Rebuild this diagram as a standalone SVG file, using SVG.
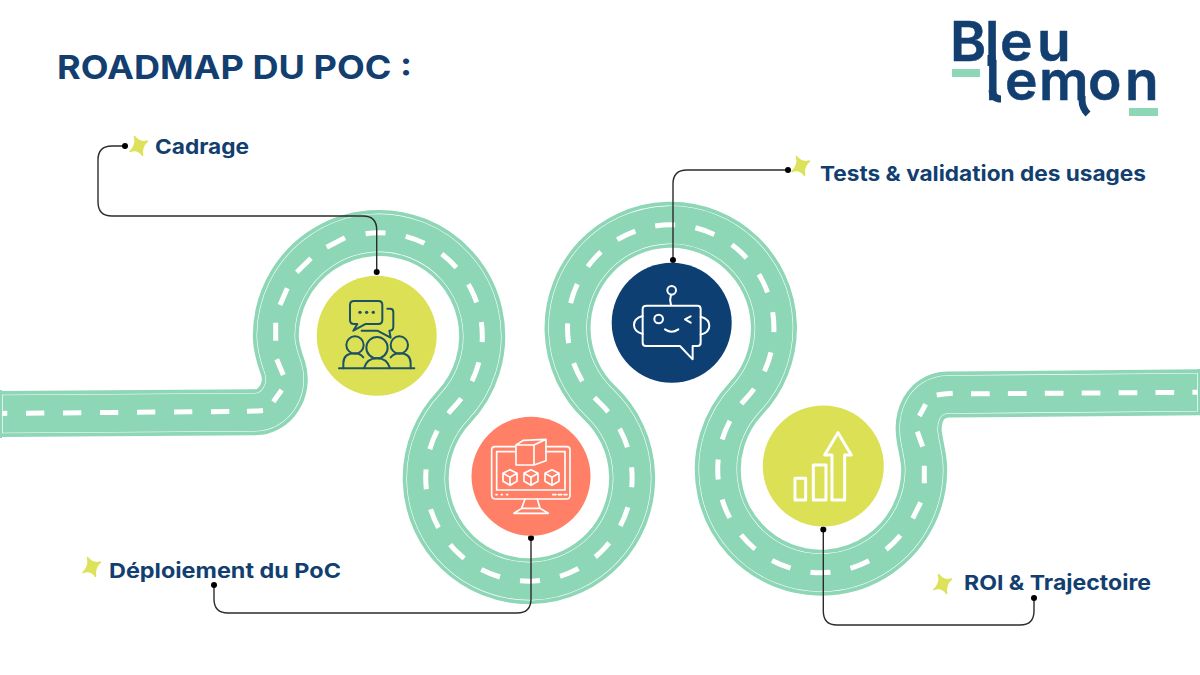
<svg xmlns="http://www.w3.org/2000/svg" width="1200" height="675" viewBox="0 0 1200 675">
<style>
.lab{font-family:"Inter","Liberation Sans",sans-serif;font-weight:700;fill:#123f70}
.logo{font-family:"Inter","Liberation Sans",sans-serif;font-weight:600;font-size:55px;fill:#123f70;stroke:#123f70;stroke-width:.5}
.road{fill:none;stroke-linejoin:round}
.dash{fill:none;stroke:#fff;stroke-width:5}
.con{fill:none;stroke:#2b2b2b;stroke-width:1.4}
.star{fill:#dce259;stroke:#dce259;stroke-width:1.5;stroke-linejoin:round}
.ic{fill:none;stroke-width:6;stroke-linecap:round;stroke-linejoin:round}
</style>
<defs>
<path id="rd" d="M0 414 L255 412.300 C275 412.300 290 390 283 368 C279 357 275.800 347 275.800 336 A103.200 103.200 0 1 1 454 407 A103.200 103.200 0 1 0 599.850 403 A103.200 103.200 0 1 1 745.850 398.750 A103.200 103.200 0 1 0 924.200 469.500 C924.200 458 921 448 919.500 438 C916 418 924 395 948 394.500 L1200 392.300"/>
<path id="st" d="M-4.500 -9.500 Q1 -2.500 8.500 -5 Q2 1 3.500 9.500 Q-1 2.500 -9 5.500 Q-2 -1 -4.500 -9.500Z"/>
</defs>
<rect width="1200" height="675" fill="#fff"/>
<g id="road">
<use href="#rd" class="road" stroke="#8dd6b6" stroke-width="46"/>
<use href="#rd" class="road" stroke="#fff" stroke-width="38.600"/>
<use href="#rd" class="road" stroke="#8dd6b6" stroke-width="37.400"/>
<path class="dash" stroke-dasharray="18.300 18.700" d="M-11 413.500 L230 411.500"/>
<path class="dash" d="M247 411.300 L258 411 L263 410.500 M273.300 401.700 L281.700 390 M276.700 359.300 L283.300 375 M275.700 322.700 V340.700 M287.300 288.300 L280 305 M311 258.300 L296.700 272.300 M345 237.700 L326.700 247.300"/>
<path class="dash" stroke-dasharray="20 20.400" d="M365.600 233.700 A103.200 103.200 0 0 1 454 407 A103.200 103.200 0 1 0 599.850 403 A103.200 103.200 0 1 1 745.850 398.750 A103.200 103.200 0 1 0 905.500 528.700"/>
<path class="dash" d="M920.700 502.300 L912.700 518.300 M924.300 465.700 V483.300 M917.300 431.700 L922.700 446.700 M925.700 404.300 L919.300 416 M936.700 395 L944 394 L952.700 393.300"/>
<path class="dash" stroke-dasharray="18.700 18.200" d="M971 393.800 L1200 392.300"/>
<rect x="0" y="390" width="2" height="48" fill="#8dd6b6"/>
<line x1="2.500" y1="395" x2="2.500" y2="433" stroke="#fff" stroke-width=".7"/>
<rect x="1198" y="369" width="2" height="46" fill="#8dd6b6"/>
<line x1="1197.500" y1="373.500" x2="1197.500" y2="411" stroke="#fff" stroke-width=".7"/>
</g>
<text class="lab" x="57" y="79" font-size="33" textLength="355" lengthAdjust="spacingAndGlyphs">ROADMAP DU POC :</text>
<g id="logo">
<text class="logo"><tspan x="950 985 1000 1037" y="61">Bleu</tspan><tspan x="985.500 1005 1039 1088 1125" y="100">lemon</tspan></text>
<path d="M991.500 55 V66" stroke="#123f70" stroke-width="8" fill="none"/>
<path d="M992 90 Q993 99 1001 99" stroke="#123f70" stroke-width="7" fill="none"/>
<path d="M1082 96 V100 Q1082 108 1088 114" stroke="#123f70" stroke-width="7" fill="none"/>
<rect x="952" y="69" width="28" height="8" fill="#8dd6b6"/>
<rect x="1129" y="108" width="29" height="8" fill="#8dd6b6"/>
</g>
<g id="connectors" class="con">
<path d="M125 146 H112 Q98 146 98 160 V202 Q98 216 112 216 H363 Q376.700 216 376.700 230 V272"/>
<path d="M531 538 V599 Q531 613 517 613 H228 Q214 613 214 599 V585"/>
<path d="M673 260 V184 Q673 170 687 170 H788"/>
<path d="M823.300 529.500 V611 Q823.300 625 837 625 H1020 Q1034 625 1034 611 V598"/>
<g fill="#000" stroke="none">
<circle cx="125" cy="146" r="3"/><circle cx="376.700" cy="272" r="3"/>
<circle cx="531" cy="538" r="3"/><circle cx="214" cy="585" r="3"/>
<circle cx="673" cy="260" r="3"/><circle cx="788" cy="170" r="3"/>
<circle cx="823.300" cy="529.500" r="3"/><circle cx="1034" cy="598" r="3"/>
</g>
</g>
<g id="node-cadrage">
<circle cx="376.700" cy="335.700" r="60" fill="#dce055"/>
<g transform="translate(300 260) scale(.3333)" class="ic" stroke="#1b5364">
<path d="M172 192 H162 Q150 192 150 180 V135 Q150 123 162 123 H235 Q247 123 247 135 V180 Q247 192 235 192 H197 L160 212 Z"/>
<path d="M262 146 H270 Q280 146 280 156 V200 Q280 212 268 212 L272 233 L232 212 H185"/>
<circle cx="165" cy="255" r="26"/><circle cx="231" cy="263" r="32"/><circle cx="298" cy="255" r="26"/>
<path d="M192 325 Q200 295 231 295 Q262 295 270 325"/>
<path d="M130 325 V310 Q130 280 165 280 Q180 280 190 292"/>
<path d="M332 325 V310 Q332 280 298 280 Q283 280 272 292"/>
<path d="M117 325 H343"/>
<g fill="#1b5364" stroke="none"><circle cx="180" cy="157" r="5"/><circle cx="200" cy="157" r="5"/><circle cx="220" cy="157" r="5"/></g>
</g>
<use href="#st" class="star" transform="translate(139 146)"/>
<text class="lab" x="155" y="154" font-size="20.500" textLength="94" lengthAdjust="spacingAndGlyphs">Cadrage</text>
</g>
<g id="node-deploiement">
<circle cx="531" cy="476.300" r="59.500" fill="#ff8067"/>
<g transform="translate(460 405) scale(.3333)" class="ic" stroke="#fff" style="stroke-width:5">
<path d="M165 125 H105 Q95 125 95 135 V270 Q95 282 107 282 H320 Q330 282 330 270 V135 Q330 125 320 125 H258"/>
<path d="M165 140 H110 V255 H315 V140 H258"/>
<path d="M195 282 L185 310 L162 325 H265 L240 310 L232 282 M185 310 H240"/>
<path d="M108 269 L111 269 M124 269 L127 269 M140 269 L143 269 M278 269 H288 M295 269 H305 M312 269 H321"/>
<path d="M168 120 H222 V180 H168 Z M168 120 L190 106 L258 103 L222 120 M258 103 V167 L222 180"/>
<path d="M150 194 L171 205 V229 L150 241 L129 229 V205 Z M129 205 L150 217 L171 205 M150 217 V241"/>
<path d="M213 194 L234 205 V229 L213 241 L192 229 V205 Z M192 205 L213 217 L234 205 M213 217 V241"/>
<path d="M276 194 L297 205 V229 L276 241 L255 229 V205 Z M255 205 L276 217 L297 205 M276 217 V241"/>
</g>
<use href="#st" class="star" transform="translate(92 567)"/>
<text class="lab" x="109" y="578" font-size="20.500" textLength="232" lengthAdjust="spacingAndGlyphs">Déploiement du PoC</text>
</g>
<g id="node-tests">
<circle cx="671.700" cy="322.700" r="60" fill="#0e3f73"/>
<g transform="translate(600 250) scale(.3333)" class="ic" stroke="#fff">
<circle cx="215" cy="121" r="13"/>
<path d="M213 134 Q208 150 213 165"/>
<path d="M140 167 H292 Q302 167 302 177 V278 Q302 288 292 288 H278 V328 L240 288 H138 Q128 288 128 278 V177 Q128 167 140 167 Z"/>
<path d="M128 198 Q102 205 102 225 Q102 245 128 252 M302 200 Q328 207 328 227 Q328 247 302 254"/>
<circle cx="176" cy="207" r="13"/>
<path d="M272 199 L255 208 L272 218 M195 238 Q215 252 235 238"/>
</g>
<use href="#st" class="star" transform="translate(801 166)"/>
<text class="lab" x="820" y="181" font-size="20.500" textLength="326" lengthAdjust="spacingAndGlyphs">Tests &amp; validation des usages</text>
</g>
<g id="node-roi">
<circle cx="823.300" cy="466" r="60.500" fill="#dce055"/>
<g transform="translate(750 395) scale(.3333)" class="ic" stroke="#fff" style="stroke-width:9">
<rect x="135" y="250" width="32" height="65"/>
<rect x="190" y="210" width="38" height="105"/>
<path d="M246 315 V180 H224 L264 113 L304 180 H284 V315 Z"/>
</g>
<use href="#st" class="star" transform="translate(943 584)"/>
<text class="lab" x="964" y="590" font-size="20.500" textLength="187" lengthAdjust="spacingAndGlyphs">ROI &amp; Trajectoire</text>
</g>
</svg>
